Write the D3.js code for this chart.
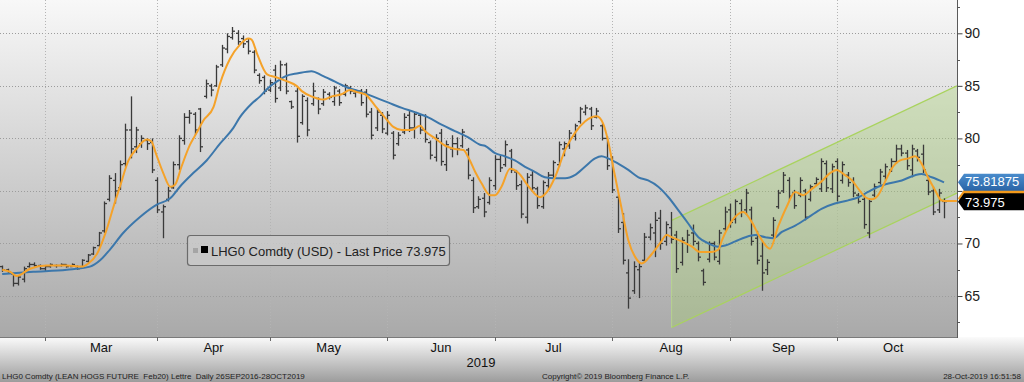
<!DOCTYPE html>
<html><head><meta charset="utf-8">
<script src="https://cdn.jsdelivr.net/npm/d3@7"></script>
<style>html,body{margin:0;padding:0;background:#fff;overflow:hidden}text{font-family:"Liberation Sans",Arial,sans-serif;white-space:pre}</style>
</head><body><svg id="c" width="1024" height="382"></svg>
<script>
// ---- data (trading-day index 0 = 19 Feb 2019 ... 176 = 28 Oct 2019) ----
const opens = [
67.8,67.5,67.1,66.2,66.6,67.8,68.0,67.9,67.6,67.8,
67.9,67.9,68.0,67.8,67.8,67.8,68.3,69.0,69.8,71.2,
74.2,76.0,75.3,77.6,80.8,79.2,79.5,79.8,79.6,76.0,
73.0,74.2,75.3,77.5,79.8,82.0,82.3,82.8,84.0,85.0,
85.0,87.0,88.5,89.6,90.0,89.5,89.2,88.2,86.0,85.8,
84.6,86.5,84.8,87.0,83.5,84.5,81.5,83.6,83.3,83.8,
83.3,84.2,83.5,84.5,84.2,84.8,84.3,84.5,84.4,82.5,
81.0,82.2,80.5,80.5,79.5,80.6,82.2,81.0,82.2,80.8,
79.6,78.2,80.5,77.5,79.0,79.5,79.3,78.9,76.0,73.5,
74.3,73.9,75.5,78.0,77.5,78.8,76.8,75.6,72.5,76.5,
75.2,73.5,75.5,76.5,77.5,79.0,79.3,80.2,81.6,82.5,
82.8,82.0,81.2,80.0,78.0,74.4,72.0,67.2,65.5,67.5,
68.4,70.6,71.0,72.4,70.2,71.5,70.8,68.2,70.0,71.0,
70.0,67.4,68.5,70.0,68.3,71.4,73.2,72.3,73.8,73.2,
73.2,70.5,68.8,67.5,70.8,73.5,75.0,76.0,74.8,74.6,
75.0,74.2,75.7,75.2,77.6,75.2,77.8,76.0,76.5,76.0,
74.6,74.2,71.0,74.6,75.8,76.4,77.0,77.8,79.0,78.6,
77.0,78.8,78.5,76.0,75.0,73.2,74.0];
const highs = [
67.9,67.6,67.2,67.0,67.8,68.2,68.2,68.0,67.9,68.1,
68.0,68.1,68.0,68.1,67.9,68.5,69.0,69.7,71.1,74.0,
76.5,76.7,77.9,81.4,84.0,81.1,80.3,80.0,80.0,76.3,
73.7,75.4,77.8,80.3,82.4,82.7,82.5,82.9,85.6,85.2,
87.0,88.9,90.0,90.6,90.3,89.8,89.5,88.4,86.2,86.0,
85.6,87.0,87.4,87.2,83.6,84.8,84.2,83.9,85.3,83.9,
84.7,84.4,85.0,84.7,85.2,85.0,84.7,84.7,84.7,82.9,
82.8,82.5,82.6,80.7,80.6,82.4,82.6,82.6,82.3,82.3,
79.8,80.4,80.9,79.8,80.3,80.1,80.9,79.1,76.3,74.5,
74.8,76.3,78.4,78.4,79.8,79.0,77.0,76.0,76.7,77.0,
75.4,76.0,76.8,77.9,79.7,79.7,80.8,81.4,83.0,83.2,
83.0,82.9,81.4,80.2,78.3,74.6,72.9,68.5,68.3,68.2,
71.0,71.9,73.0,73.2,72.1,73.0,71.2,70.6,71.3,71.8,
70.2,67.6,70.2,70.2,71.3,73.5,73.8,74.2,74.2,75.2,
73.5,71.2,70.2,68.5,72.5,75.1,76.8,76.3,75.1,76.3,
75.2,75.6,76.3,78.1,77.9,77.6,78.1,77.8,76.8,76.3,
74.8,74.6,74.3,75.7,77.1,77.6,78.1,79.4,79.4,78.9,
79.4,79.0,79.4,76.3,75.4,75.2,74.3];
const lows = [
67.3,67.2,65.9,66.0,66.3,67.7,67.8,67.5,67.3,67.7,
67.7,67.8,67.7,67.8,67.5,67.8,68.1,68.9,69.7,71.0,
74.0,73.8,75.1,77.3,78.1,78.6,79.1,78.9,76.7,72.9,
70.5,74.0,75.2,77.0,79.4,81.4,80.3,78.7,83.8,84.0,
84.9,86.8,88.1,89.4,88.9,88.6,88.0,86.2,85.2,84.2,
84.4,83.4,84.5,84.2,82.8,79.6,81.3,80.2,83.1,82.3,
83.1,83.7,83.1,83.1,84.0,84.2,83.9,83.1,82.0,79.9,
80.7,80.5,80.3,78.0,79.3,80.4,80.6,80.0,80.4,79.6,
78.0,77.8,77.4,76.9,78.2,78.4,79.1,76.1,72.9,73.3,
72.5,73.7,75.1,76.8,77.3,76.7,75.1,72.4,71.9,75.1,
73.3,73.3,75.1,76.2,77.3,78.3,79.0,79.8,81.4,82.2,
80.8,81.9,79.8,77.0,74.8,71.0,68.0,63.8,65.2,64.8,
68.2,70.3,68.7,69.4,69.8,70.0,67.2,67.9,69.1,69.8,
68.3,66.0,68.2,68.4,68.0,71.2,71.5,71.9,72.5,72.7,
69.8,68.0,65.5,67.0,70.5,73.3,74.8,74.1,73.3,74.4,
72.2,74.0,75.6,74.9,74.9,74.8,74.0,75.7,75.4,74.4,
73.8,71.4,70.5,74.4,75.6,76.0,76.8,77.6,78.3,77.0,
76.3,77.8,76.7,74.6,72.7,72.9,72.4];
const closes = [
67.5,67.3,66.2,66.8,67.6,68.0,67.9,67.6,67.8,68.0,
67.9,68.0,67.8,68.0,67.6,68.4,68.9,69.6,71.0,73.8,
76.2,75.0,77.5,80.8,79.0,80.8,80.0,79.5,77.0,73.2,
73.5,75.0,77.5,80.0,82.0,82.4,80.8,79.2,85.2,84.6,
86.8,88.6,89.7,90.2,89.2,89.0,88.3,86.5,85.5,84.5,
85.3,83.8,87.0,84.5,83.0,80.2,84.0,80.8,84.5,82.8,
84.4,83.9,84.8,83.4,85.0,84.5,84.5,83.4,82.3,80.3,
82.5,80.9,82.2,78.4,80.3,82.0,81.0,82.3,80.8,79.9,
78.4,80.0,77.8,79.4,79.5,79.0,80.6,76.5,73.4,74.2,
73.0,76.0,78.0,77.2,79.4,77.0,75.5,72.8,76.3,75.3,
73.6,75.8,76.5,77.7,79.4,79.5,80.5,81.2,82.8,82.9,
81.2,82.6,80.0,77.4,75.1,71.4,68.4,64.8,67.8,67.8,
70.6,71.5,72.2,70.0,71.8,70.4,67.6,70.3,70.8,70.2,
68.7,66.3,70.0,68.7,71.0,73.0,72.0,74.0,73.0,74.8,
70.2,68.4,67.2,68.2,72.2,74.8,76.5,74.5,73.6,76.0,
72.5,75.4,76.1,77.8,75.3,77.3,74.5,77.5,75.8,74.8,
74.0,71.8,74.0,75.4,76.8,77.3,77.8,79.0,78.6,77.4,
79.0,78.2,77.0,74.9,73.0,74.8,73.975];

// moving averages: [trading-day index, value]
const fastMA = [[0,67.5],[1.5,67.3],[2.7,66.9],[5.2,67.6],[8.3,67.9],[12,67.9],[14.9,67.8],[16.1,68.1],[17.7,69.0],[19.5,71.3],[20.8,73.5],[22,75.4],[23.6,77.9],[25.1,79.0],[27,79.9],[27.9,79.7],[28.7,78.6],[30.1,76.7],[31.4,75.4],[32.3,75.6],[33.5,77.3],[35.1,79.4],[36.3,80.5],[37.6,81.7],[39.5,83.0],[40.7,85.2],[42.6,87.6],[44.4,88.9],[46,89.5],[46.6,89.4],[47.6,88.1],[49.5,86.1],[51.3,85.8],[52.9,85.5],[55,85.0],[56,84.5],[57.8,84.0],[60,83.7],[61.6,84.0],[63.4,84.2],[65,84.6],[66.3,84.4],[67.8,84.2],[69.7,83.1],[71.5,82.0],[73.1,81.1],[74.7,80.8],[76.5,80.8],[78.1,81.2],[79,80.7],[80.9,80.0],[82.8,79.3],[84.6,79.0],[86.2,78.9],[87.1,78.2],[88.4,76.8],[89.6,75.7],[91.2,74.6],[92.1,74.6],[93.3,75.4],[94.9,77.1],[96.5,76.7],[98.4,75.4],[100.5,74.4],[101.8,74.9],[103.3,76.3],[105.2,78.9],[107,80.5],[108.9,81.6],[111.1,82.1],[112.3,81.4],[113.2,79.8],[114.4,76.7],[115.8,73.2],[117,70.3],[118.3,68.7],[119.5,68.1],[121.4,69.0],[122.9,70.0],[124.2,70.8],[125.1,70.6],[127,70.2],[128.9,69.7],[130.4,69.2],[132.6,69.2],[133.8,69.4],[134.5,70.3],[136.3,72.1],[138.5,73.0],[140,72.1],[141.6,70.6],[143.5,69.5],[145,71.6],[146.6,73.5],[148.2,74.9],[149.7,74.6],[151.3,75.2],[153.1,75.9],[154.7,76.7],[155.9,77.0],[157.5,76.5],[158.8,76.0],[160,75.2],[161.3,74.4],[162.5,74.2],[163.7,74.6],[165,75.9],[166.2,77.1],[167.8,77.9],[169.4,78.1],[170.6,78.3],[171.8,77.6],[173,76.3],[174.3,75.1],[175.5,74.1],[176,74.05],[178.4,74.05]];
const slowMA = [[0,67.1],[5.8,67.3],[12.1,67.5],[16.4,67.8],[18.3,68.4],[20.1,69.4],[22.6,71.0],[25.7,72.5],[28.9,73.7],[31.4,74.3],[33.2,75.4],[35.7,76.7],[38.2,77.9],[40.7,79.5],[43.2,81.0],[44.4,82.0],[46.6,83.3],[48.2,84.0],[49.7,84.8],[51.9,85.6],[52.9,85.9],[55.3,86.2],[57.8,86.4],[59.7,86.0],[62.2,85.4],[64.7,84.8],[67.2,84.4],[69.7,83.9],[72.2,83.4],[74.7,82.9],[77.1,82.5],[79.6,82.0],[82.1,81.3],[84.6,80.7],[87.1,80.1],[89.3,79.4],[90.2,79.3],[92.1,78.6],[93.9,78.3],[95.8,77.9],[97.7,77.3],[99.6,76.8],[101.4,76.3],[103.3,76.2],[105.2,76.2],[107,76.5],[108.9,77.3],[110.8,78.1],[112,78.3],[113.2,78.1],[115.1,77.6],[117,77.0],[118.9,76.3],[120.7,76.0],[122.6,75.4],[124.5,74.4],[126.3,73.2],[128.2,71.9],[130.1,70.6],[132,70.0],[133.8,69.7],[135.1,69.8],[137,70.2],[138.9,70.6],[140.7,70.8],[142.6,70.6],[144.1,70.5],[145.7,71.1],[148.2,71.7],[150.7,72.5],[153.1,73.3],[155.6,73.8],[158.1,74.1],[160,74.4],[161.8,74.9],[163.7,75.4],[165.6,75.7],[168.1,76.0],[170.6,76.5],[171.8,76.6],[173.7,76.3],[176,75.82]];

const channelIdx = [125.1, 178.4];
const channelUpper = [72.2, 85.0];
const channelLower = [62.0, 74.8];

const monthLabels = ["Mar","Apr","May","Jun","Jul","Aug","Sep","Oct"];
const monthStarts = [8,29,50,72,92,114,136,156,177];
const yearLabel = "2019";
const yTicks = [65,70,75,80,85,90];
const yHiddenLabels = [75];   // covered by the price tags in the original
const yMinorTicks = [62.5,67.5,72.5,77.5,82.5,87.5,92.5];

const lastPrice = 73.975, lastSlow = 75.81875, lastFast = 74.3;
const legendText = "LHG0 Comdty (USD) - Last Price 73.975";
const footerLeft = "LHG0 Comdty (LEAN HOGS FUTURE  Feb20) Lettre  Daily 26SEP2016-28OCT2019";
const footerMid = "Copyright\u00A9 2019 Bloomberg Finance L.P.";
const footerRight = "28-Oct-2019 16:51:58";

// ---- layout ----
const W = 1024, H = 382, PR = 957, PB = 337;
const svg = d3.select("#c");
const x = d3.scaleLinear().domain([8,156]).range([45,837]);
const y = d3.scaleLinear().domain([61.1,93.17]).range([PB,0]);

const defs = svg.append("defs");
const g1 = defs.append("linearGradient").attr("id","plotBg").attr("x1",0).attr("y1",0).attr("x2",0).attr("y2",1);
g1.append("stop").attr("offset","0%").attr("stop-color","#f8f8f8");
g1.append("stop").attr("offset","100%").attr("stop-color","#a9a9a9");
const g2 = defs.append("linearGradient").attr("id","footBg").attr("x1",0).attr("y1",0).attr("x2",0).attr("y2",1);
g2.append("stop").attr("offset","0%").attr("stop-color","#fbfbfb");
g2.append("stop").attr("offset","100%").attr("stop-color","#9c9c9c");
const g3 = defs.append("linearGradient").attr("id","blueTag").attr("x1",0).attr("y1",0).attr("x2",0).attr("y2",1);
g3.append("stop").attr("offset","0%").attr("stop-color","#4a8ccc");
g3.append("stop").attr("offset","100%").attr("stop-color","#2a64a6");
defs.append("clipPath").attr("id","clip").append("rect").attr("x",0).attr("y",0).attr("width",PR).attr("height",PB);

svg.append("rect").attr("x",0).attr("y",0).attr("width",W).attr("height",H).attr("fill","#fff");
svg.append("rect").attr("x",0).attr("y",0).attr("width",PR).attr("height",PB).attr("fill","url(#plotBg)");
svg.append("rect").attr("x",0).attr("y",PB).attr("width",W).attr("height",H-PB).attr("fill","url(#footBg)");

const plot = svg.append("g").attr("clip-path","url(#clip)");

// gridlines
plot.selectAll(".hg").data(yTicks).join("line")
  .attr("x1",0).attr("x2",PR).attr("y1",d=>Math.round(y(d))+0.5).attr("y2",d=>Math.round(y(d))+0.5)
  .attr("stroke","#9c9c9c").attr("stroke-dasharray","1,2").attr("stroke-width",1);
plot.selectAll(".vg").data(monthStarts.slice(0,-1)).join("line")
  .attr("x1",d=>Math.round(x(d))+0.5).attr("x2",d=>Math.round(x(d))+0.5).attr("y1",0).attr("y2",PB)
  .attr("stroke","#b4b4b4").attr("stroke-dasharray","1,2").attr("stroke-width",1);

// channel
const chPts = [[channelIdx[0],channelUpper[0]],[channelIdx[1],channelUpper[1]],[channelIdx[1],channelLower[1]],[channelIdx[0],channelLower[0]]];
plot.append("polygon").attr("points",chPts.map(p=>[x(p[0]),y(p[1])].join(",")).join(" "))
  .attr("fill","#a6d46a").attr("fill-opacity",0.32);
[channelUpper, channelLower].forEach(v=>{
  plot.append("line").attr("x1",x(channelIdx[0])).attr("y1",y(v[0])).attr("x2",x(channelIdx[1])).attr("y2",y(v[1]))
    .attr("stroke","#a9d35e").attr("stroke-width",1.2);
});
plot.append("line").attr("x1",x(channelIdx[0])).attr("y1",y(channelUpper[0])).attr("x2",x(channelIdx[0])).attr("y2",y(channelLower[0]))
  .attr("stroke","#b9dc88").attr("stroke-width",0.8);

// OHLC bars
const bars = plot.append("g").attr("stroke","#3a3a3a").attr("stroke-width",1.3);
d3.range(closes.length).forEach(i=>{
  const cx = Math.round(x(i))+0.5;
  bars.append("line").attr("x1",cx).attr("x2",cx).attr("y1",y(highs[i])).attr("y2",y(lows[i]));
  bars.append("line").attr("x1",cx-2.5).attr("x2",cx).attr("y1",y(opens[i])).attr("y2",y(opens[i]));
  bars.append("line").attr("x1",cx).attr("x2",cx+2.5).attr("y1",y(closes[i])).attr("y2",y(closes[i]));
});

// moving averages
const line = d3.line().x(d=>x(d[0])).y(d=>y(d[1])).curve(d3.curveMonotoneX);
plot.append("path").attr("d",line(slowMA)).attr("fill","none").attr("stroke","#3c77ab").attr("stroke-width",2);
plot.append("path").attr("d",line(fastMA)).attr("fill","none").attr("stroke","#f5a229").attr("stroke-width",2);

// borders
svg.append("line").attr("x1",0).attr("x2",PR).attr("y1",PB+0.5).attr("y2",PB+0.5).attr("stroke","#7a7a7a");
svg.append("line").attr("x1",PR+0.5).attr("x2",PR+0.5).attr("y1",0).attr("y2",PB+1).attr("stroke","#5a5a5a");

// right axis
const ax = svg.append("g").attr("transform",`translate(${PR+0.5},0)`)
  .call(d3.axisRight(y).tickValues(yTicks).tickSize(5).tickPadding(2)
    .tickFormat(d=>yHiddenLabels.includes(d) ? "" : d3.format("d")(d)));
ax.select(".domain").remove();
ax.selectAll(".tick line").attr("stroke","#444");
ax.selectAll(".tick text").attr("font-size",14).attr("fill","#222").attr("font-family","Liberation Sans, Arial, sans-serif");
svg.append("g").selectAll("line").data(yMinorTicks).join("line")
  .attr("x1",PR).attr("x2",PR+3).attr("y1",d=>Math.round(y(d))+0.5).attr("y2",d=>Math.round(y(d))+0.5).attr("stroke","#555");

// bottom ticks & month labels
svg.append("g").selectAll("line").data(monthStarts.slice(0,-1)).join("line")
  .attr("x1",d=>Math.round(x(d))+0.5).attr("x2",d=>Math.round(x(d))+0.5).attr("y1",PB).attr("y2",PB+4).attr("stroke","#666");
svg.append("g").selectAll("text").data(monthLabels).join("text")
  .attr("x",(d,k)=>(x(monthStarts[k])+x(monthStarts[k+1]))/2).attr("y",352)
  .attr("text-anchor","middle").attr("font-size",13).attr("fill","#111").text(d=>d);
svg.append("text").attr("x",(x(monthStarts[3])+x(monthStarts[4]))/2+40).attr("y",367)
  .attr("text-anchor","middle").attr("font-size",13).attr("fill","#111").text(yearLabel);

// footer
svg.append("text").attr("x",2).attr("y",379).attr("font-size",8).attr("fill","#222").text(footerLeft);
svg.append("text").attr("x",542).attr("y",379).attr("font-size",8).attr("fill","#222").text(footerMid);
svg.append("text").attr("x",1021).attr("y",379).attr("text-anchor","end").attr("font-size",8).attr("fill","#222").text(footerRight);

// legend
const lg = svg.append("g");
lg.append("rect").attr("x",187.5).attr("y",235.5).attr("width",262).attr("height",30).attr("rx",3)
  .attr("fill","#c9c9c9").attr("fill-opacity",0.85).attr("stroke","#6b6b6b").attr("stroke-width",1.2);
lg.append("rect").attr("x",193).attr("y",248).attr("width",5).attr("height",5).attr("fill","#a5a5a5");
lg.append("rect").attr("x",201).attr("y",246).attr("width",7).attr("height",7).attr("fill","#000");
lg.append("text").attr("x",211).attr("y",255.5).attr("font-size",13).attr("fill","#222").text(legendText);

// price tags (the fast-MA tag sits behind the last-price tag, only its edge shows)
function tagShape(v, fill){
  const c = y(v), t = c-8.5, b = c+8.5;
  return svg.append("polygon").attr("points",`${PR+1},${c} ${PR+7},${t} ${W},${t} ${W},${b} ${PR+7},${b}`).attr("fill",fill);
}
function tag(v, fill, txtFill, label, dy){
  tagShape(v, fill);
  svg.append("text").attr("x",PR+8).attr("y",y(v)+dy).attr("font-size",13).attr("fill",txtFill).text(label);
}
tagShape(lastFast, "#f39a1c");
tag(lastPrice, "#000", "#fff", String(lastPrice), 5.5);
tag(lastSlow, "url(#blueTag)", "#fff", String(lastSlow), 4);
</script></body></html>
